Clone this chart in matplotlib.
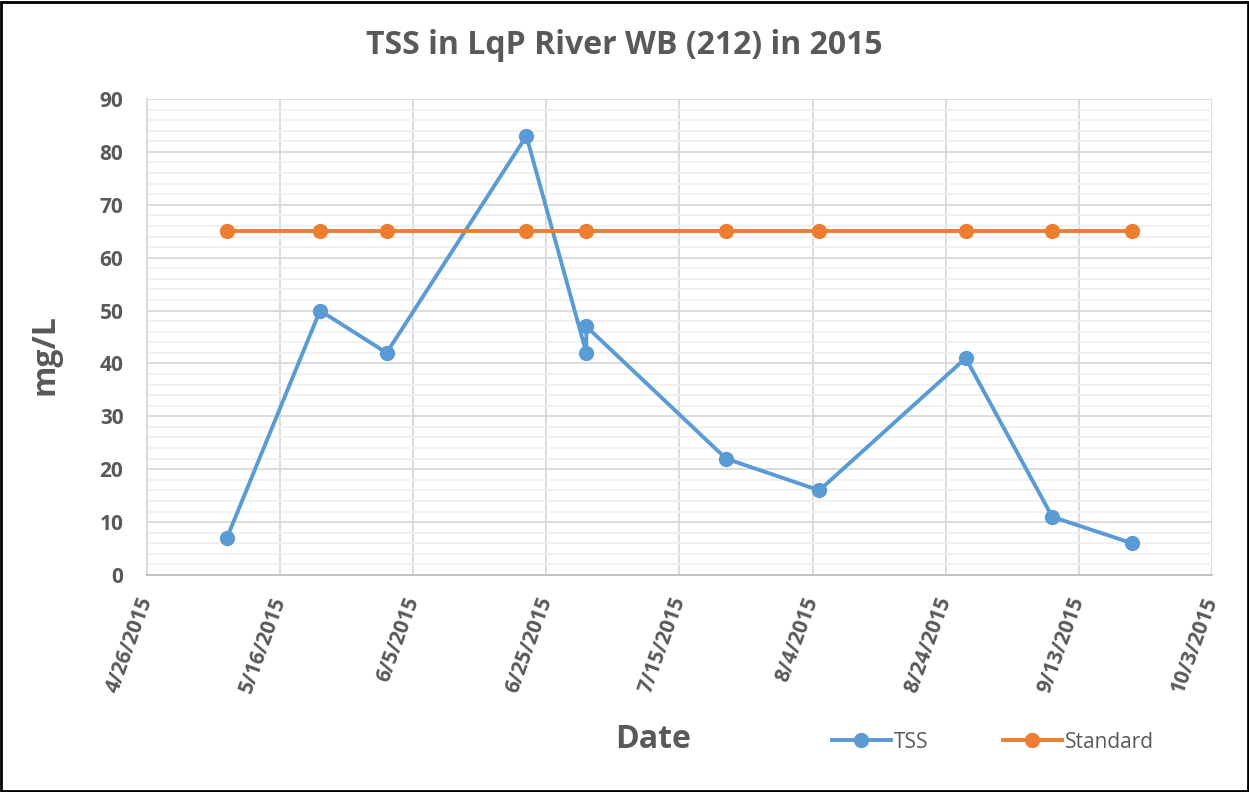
import matplotlib.pyplot as plt
import matplotlib.dates as mdates
from matplotlib.ticker import MultipleLocator
import datetime as dt

# sample dates and TSS values (two samples on 7/1)
dates = ['2015-05-08', '2015-05-22', '2015-06-01', '2015-06-22', '2015-07-01',
         '2015-07-01', '2015-07-22', '2015-08-05', '2015-08-27', '2015-09-09',
         '2015-09-21']
tss = [7, 50, 42, 83, 42, 47, 22, 16, 41, 11, 6]

std_dates = ['2015-05-08', '2015-05-22', '2015-06-01', '2015-06-22', '2015-07-01',
             '2015-07-22', '2015-08-05', '2015-08-27', '2015-09-09', '2015-09-21']
standard = [65, 65, 65, 65, 65, 65, 65, 65, 65, 65]

x_start = '2015-04-26'
x_end = '2015-10-03'

to_dt = lambda s: dt.datetime.strptime(s, '%Y-%m-%d')

plt.rcParams['font.family'] = ['Open Sans', 'DejaVu Sans']
gray = '#595959'
blue = '#5B9BD5'
orange = '#ED7D31'

fig = plt.figure(figsize=(12.49, 7.92), dpi=100)
ax = fig.add_axes([147 / 1249, 1 - 575 / 792, (1212 - 147) / 1249, (575 - 99) / 792])

ax.plot([to_dt(d) for d in dates], tss, color=blue, lw=2.8, marker='o', ms=10, label='TSS', zorder=3)
ax.plot([to_dt(d) for d in std_dates], standard, color=orange, lw=2.8, marker='o', ms=10, label='Standard', zorder=3)

ax.set_ylim(0, 90)
ax.yaxis.set_major_locator(MultipleLocator(10))
ax.yaxis.set_minor_locator(MultipleLocator(2))
ax.set_xlim(to_dt(x_start), to_dt(x_end))
ticks = [mdates.date2num(to_dt(x_start)) + 20 * i for i in range(9)]
ax.set_xticks(ticks)
ax.set_xticklabels([f'{d.month}/{d.day}/{d.year}' for d in mdates.num2date(ticks)])

ax.grid(which='major', color='#D9D9D9', lw=1.3)
ax.grid(which='minor', axis='y', color='#F0F0F0', lw=1.3)
ax.set_axisbelow(True)
for s in ['top', 'right']:
    ax.spines[s].set_visible(False)
ax.spines['left'].set_color('#D9D9D9')
ax.spines['bottom'].set_color('#BFBFBF')
ax.spines['left'].set_linewidth(1.3)
ax.spines['bottom'].set_linewidth(1.3)
ax.tick_params(which='both', length=0, colors=gray, labelsize=15)
ax.tick_params(axis='y', pad=17)
ax.tick_params(axis='x', pad=16)
for lab in ax.get_yticklabels():
    lab.set_fontweight('bold')
for lab in ax.get_xticklabels():
    lab.set_fontweight('bold')
    lab.set_rotation(70)
    lab.set_ha('right')
    lab.set_va('center')
    lab.set_rotation_mode('anchor')

fig.text(0.5, 1 - 45 / 792, 'TSS in LqP River WB (212) in 2015', ha='center', va='center',
         fontsize=23, fontweight='bold', color=gray)
fig.text(45 / 1249, 1 - 355 / 792, 'mg/L', rotation=90, ha='center', va='center',
         fontsize=23, fontweight='bold', color=gray)
fig.text(653 / 1249, 1 - 740 / 792, 'Date', ha='center', va='center',
         fontsize=23, fontweight='bold', color=gray)

leg = fig.legend(loc='center', bbox_to_anchor=(993 / 1249, 1 - 742 / 792), ncol=2, frameon=False,
                 fontsize=15, handlelength=2.8, columnspacing=3.6, handletextpad=0.15)
for t in leg.get_texts():
    t.set_color(gray)

fig.patches.append(plt.Rectangle((0.001, 0.001), 0.998, 0.997, transform=fig.transFigure,
                                 fill=False, edgecolor='black', lw=2))

fig.savefig('out.png', dpi=100)
